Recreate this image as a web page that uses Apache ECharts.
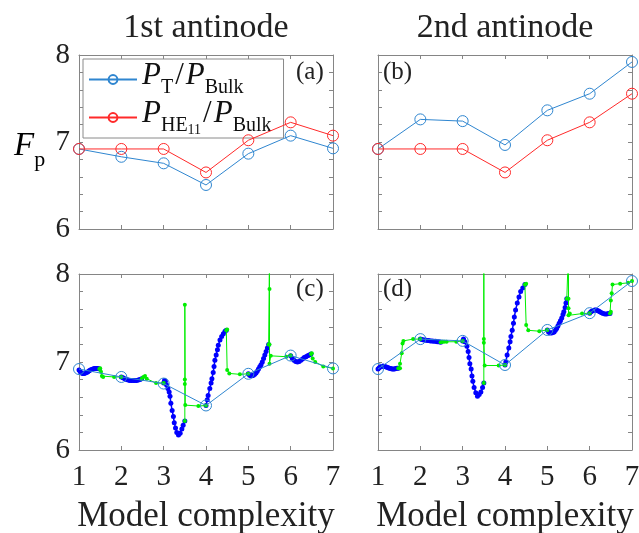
<!DOCTYPE html>
<html><head><meta charset="utf-8">
<script src="https://cdn.jsdelivr.net/npm/echarts@6/dist/echarts.min.js"></script>
<style>html,body{margin:0;padding:0;background:#fff}#c{width:639px;height:533px}</style>
</head><body><div id="c"></div>
<script>
// ---------- data ----------
const complexity = [1, 2, 3, 4, 5, 6, 7];
const xTickLabels = ['1', '2', '3', '4', '5', '6', '7'];
const yTickLabels = {6: '6', 7: '7', 8: '8'};
const panelTitles = ['1st antinode', '2nd antinode'];
const panelTags = ['(a)', '(b)', '(c)', '(d)'];

// P_T / P_Bulk and P_HE11 / P_Bulk
const ptFirst  = [6.92, 6.83, 6.755, 6.506, 6.866, 7.073, 6.927];
const heFirst  = [6.92, 6.92, 6.92, 6.65, 7.02, 7.226, 7.073];
const ptSecond = [6.92, 7.26, 7.24, 6.966, 7.364, 7.555, 7.92];
const heSecond = [6.92, 6.92, 6.92, 6.65, 7.02, 7.226, 7.555];

// dense sweep (blue dots), panel (c): one list per segment
const sweepC = [
  [[1.00,6.91],[1.03,6.89],[1.06,6.875],[1.09,6.87],[1.12,6.87],[1.15,6.875],[1.18,6.88],[1.21,6.89],[1.24,6.90],[1.27,6.91],[1.30,6.915],[1.33,6.92],[1.36,6.925],[1.39,6.925],[1.42,6.925],[1.45,6.925],[1.48,6.92]],
  [[2.00,6.83],[2.04,6.82],[2.08,6.81],[2.12,6.80],[2.16,6.795],[2.20,6.79],[2.24,6.79],[2.28,6.79],[2.32,6.79],[2.36,6.79],[2.40,6.795],[2.44,6.80],[2.48,6.81]],
  [[3.00,6.76],[3.02,6.79],[3.04,6.78],[3.07,6.74],[3.10,6.70],[3.13,6.66],[3.15,6.61],[3.17,6.53],[3.20,6.45],[3.23,6.38],[3.25,6.31],[3.28,6.25],[3.31,6.20],[3.35,6.17],[3.39,6.19],[3.43,6.24],[3.46,6.28],[3.50,6.33]],
  [[4.00,6.506],[4.03,6.57],[4.05,6.62],[4.09,6.70],[4.12,6.76],[4.14,6.81],[4.17,6.88],[4.19,6.95],[4.21,7.02],[4.24,7.08],[4.27,7.14],[4.29,7.19],[4.33,7.25],[4.37,7.29],[4.41,7.32],[4.45,7.35],[4.48,7.36]],
  [[5.00,6.866],[5.03,6.85],[5.06,6.845],[5.09,6.845],[5.12,6.85],[5.15,6.86],[5.18,6.875],[5.21,6.895],[5.24,6.92],[5.27,6.945],[5.30,6.97],[5.33,7.00],[5.36,7.04],[5.39,7.08],[5.42,7.12],[5.45,7.16],[5.48,7.20]],
  [[6.00,7.07],[6.04,7.04],[6.08,7.02],[6.12,7.005],[6.16,7.00],[6.20,7.005],[6.24,7.02],[6.28,7.035],[6.32,7.05],[6.36,7.06],[6.40,7.07],[6.44,7.08],[6.48,7.09]]
];
// step path (green dots), panel (c)
const stepC = [
  [[1.48,6.92],[1.50,6.93],[1.52,6.89],[1.54,6.84],[1.57,6.83],[1.83,6.83],[2.00,6.83]],
  [[2.48,6.81],[2.52,6.83],[2.56,6.84],[2.60,6.81],[2.82,6.76],[3.00,6.76]],
  [[3.50,6.33],[3.50,6.75],[3.50,6.80],[3.50,7.65],[3.51,6.51],[3.82,6.50],[4.00,6.506]],
  [[4.48,7.36],[4.50,7.37],[4.50,6.91],[4.55,6.87],[4.80,6.86],[5.00,6.866]],
  [[5.48,7.20],[5.50,7.20],[5.50,8.30],[5.50,7.83],[5.50,6.98],[5.53,7.07],[5.90,7.06],[6.00,7.073]],
  [[6.48,7.09],[6.50,7.10],[6.52,7.04],[6.58,7.00],[6.77,6.95],[7.00,6.927]]
];
// dense sweep (blue dots), panel (d)
const sweepD = [
  [[1.00,6.92],[1.03,6.935],[1.06,6.945],[1.09,6.95],[1.12,6.955],[1.15,6.95],[1.18,6.945],[1.21,6.94],[1.24,6.935],[1.27,6.93],[1.30,6.925],[1.33,6.92],[1.36,6.92],[1.39,6.92],[1.42,6.925],[1.45,6.93],[1.48,6.93]],
  [[2.00,7.26],[2.04,7.255],[2.08,7.25],[2.12,7.25],[2.16,7.245],[2.20,7.245],[2.24,7.24],[2.28,7.24],[2.32,7.235],[2.36,7.235],[2.40,7.23],[2.44,7.23],[2.48,7.225]],
  [[3.00,7.24],[3.02,7.26],[3.05,7.23],[3.10,7.18],[3.13,7.12],[3.15,7.05],[3.17,6.98],[3.20,6.92],[3.22,6.84],[3.24,6.78],[3.27,6.71],[3.31,6.65],[3.35,6.61],[3.39,6.63],[3.43,6.66],[3.47,6.71],[3.50,6.76]],
  [[4.00,6.966],[4.02,7.00],[4.05,7.08],[4.09,7.16],[4.12,7.23],[4.14,7.29],[4.17,7.36],[4.20,7.44],[4.22,7.51],[4.25,7.59],[4.29,7.67],[4.33,7.74],[4.37,7.80],[4.42,7.84],[4.47,7.88]],
  [[5.00,7.364],[5.03,7.34],[5.06,7.33],[5.10,7.33],[5.13,7.335],[5.16,7.34],[5.19,7.36],[5.22,7.38],[5.25,7.41],[5.28,7.44],[5.31,7.47],[5.34,7.50],[5.37,7.54],[5.39,7.57],[5.42,7.62],[5.44,7.67],[5.46,7.72]],
  [[6.00,7.555],[6.03,7.57],[6.06,7.58],[6.09,7.585],[6.12,7.59],[6.15,7.59],[6.18,7.585],[6.21,7.58],[6.24,7.57],[6.28,7.56],[6.32,7.55],[6.36,7.545],[6.40,7.545],[6.44,7.55],[6.48,7.55]]
];
// step path (green dots), panel (d)
const stepD = [
  [[1.48,6.93],[1.52,6.93],[1.52,6.98],[1.56,7.10],[1.58,7.21],[1.60,7.24],[1.83,7.26],[2.00,7.26]],
  [[2.48,7.225],[2.52,7.23],[2.56,7.23],[2.62,7.23],[2.85,7.23],[3.00,7.24]],
  [[3.50,6.76],[3.50,8.30],[3.50,7.26],[3.50,7.22],[3.52,6.96],[3.85,6.96],[4.00,6.966]],
  [[4.47,7.88],[4.50,7.89],[4.50,7.42],[4.55,7.36],[4.81,7.35],[5.00,7.364]],
  [[5.46,7.72],[5.50,7.72],[5.50,8.30],[5.50,7.61],[5.50,7.53],[5.53,7.55],[5.82,7.55],[6.00,7.555]],
  [[6.48,7.55],[6.50,7.57],[6.50,7.70],[6.52,7.78],[6.54,7.88],[6.72,7.89],[6.91,7.90],[7.00,7.92]]
];

// ---------- styling ----------
const C_PT = '#2f86d0', C_HE = '#ff2a2a', C_SWEEP = '#0000ff', C_STEP = '#00ee00';
const FRAME = '#858585';
const SERIF = '"Liberation Serif", "DejaVu Serif", serif';
const grids = [
  {left: 79, top: 55, width: 254, height: 174, outerBoundsMode: 'none', containLabel: false},
  {left: 378, top: 55, width: 254, height: 174, outerBoundsMode: 'none', containLabel: false},
  {left: 79, top: 274, width: 254, height: 176, outerBoundsMode: 'none', containLabel: false},
  {left: 378, top: 274, width: 254, height: 176, outerBoundsMode: 'none', containLabel: false}
];

const xAxes = [], yAxes = [];
grids.forEach((g, i) => {
  const lineCommon = {show: true, lineStyle: {color: FRAME, width: 1}};
  const tickCommon = {show: true, inside: true, length: 4, lineStyle: {color: FRAME, width: 1}};
  xAxes.push({
    type: 'value', gridIndex: i, min: 1, max: 7, interval: 1, position: 'bottom',
    axisLine: lineCommon, axisTick: tickCommon, splitLine: {show: false},
    axisLabel: {show: i >= 2, margin: 13, color: '#222', fontFamily: SERIF, fontSize: 29,
      formatter: v => xTickLabels[Math.round(v) - 1]},
    name: i >= 2 ? 'Model complexity' : '', nameLocation: 'middle', nameGap: 49,
    nameTextStyle: {color: '#222', fontFamily: SERIF, fontSize: 35}
  });
  xAxes.push({
    type: 'value', gridIndex: i, min: 1, max: 7, interval: 1, position: 'top',
    axisLine: lineCommon, axisTick: tickCommon, splitLine: {show: false}, axisLabel: {show: false}
  });
  yAxes.push({
    type: 'value', gridIndex: i, min: 6, max: 8, interval: 0.2, position: 'left',
    axisLine: lineCommon, axisTick: tickCommon, splitLine: {show: false},
    axisLabel: {show: i % 2 === 0, margin: 9, color: '#222', fontFamily: SERIF, fontSize: 29,
      formatter: v => { const r = Math.round(v); return Math.abs(v - r) < 1e-6 ? (yTickLabels[r] || '') : ''; }}
  });
  yAxes.push({
    type: 'value', gridIndex: i, min: 6, max: 8, interval: 0.2, position: 'right',
    axisLine: lineCommon, axisTick: tickCommon, splitLine: {show: false}, axisLabel: {show: false}
  });
});

const series = [];
function pLine(name, vals, color, g) {
  series.push({
    name: name, type: 'line', xAxisIndex: 2 * g, yAxisIndex: 2 * g,
    data: complexity.map((c, k) => [c, vals[k]]),
    symbol: 'circle', symbolSize: 11, z: 5,
    lineStyle: {color: color, width: 1},
    itemStyle: {color: 'rgba(255,255,255,0)', borderColor: color, borderWidth: 1}
  });
}
function segs(list, color, size, width, g, z) {
  list.forEach(seg => series.push({
    type: 'line', xAxisIndex: 2 * g, yAxisIndex: 2 * g, data: seg, clip: true,
    symbol: 'circle', symbolSize: size, z: z,
    lineStyle: {color: color, width: width}, itemStyle: {color: color}
  }));
}
pLine('PT', ptFirst, C_PT, 0);
pLine('PHE', heFirst, C_HE, 0);
pLine('PT', ptSecond, C_PT, 1);
pLine('PHE', heSecond, C_HE, 1);
segs(sweepC, C_SWEEP, 5, 1.5, 2, 2);
segs(stepC, C_STEP, 4, 1, 2, 3);
pLine('PT', ptFirst, C_PT, 2);
segs(sweepD, C_SWEEP, 5, 1.5, 3, 2);
segs(stepD, C_STEP, 4, 1, 3, 3);
pLine('PT', ptSecond, C_PT, 3);

const rich = {
  i: {fontFamily: SERIF, fontStyle: 'italic', fontSize: 31, color: '#111', padding: [0, 0, 8, 0], verticalAlign: 'bottom'},
  n: {fontFamily: SERIF, fontSize: 31, color: '#111', padding: [0, 2, 8, 2], verticalAlign: 'bottom'},
  s: {fontFamily: SERIF, fontSize: 20, color: '#111', verticalAlign: 'bottom', padding: [0, 0, 1, 0]},
  ss: {fontFamily: SERIF, fontSize: 14, color: '#111', verticalAlign: 'bottom', padding: [0, 0, 0, 0]}
};

const graphics = [];
panelTitles.forEach((t, k) => graphics.push({
  type: 'text', x: grids[k].left + grids[k].width / 2, y: 28,
  style: {text: t, font: '34px ' + SERIF, fill: '#222', align: 'center', verticalAlign: 'middle'}
}));
const tagPos = [[296, 60], [383, 60], [296, 277], [383, 277]];
panelTags.forEach((t, k) => graphics.push({
  type: 'text', x: tagPos[k][0], y: tagPos[k][1],
  style: {text: t, font: '25px ' + SERIF, fill: '#222'}
}));
graphics.push({
  type: 'text', x: 14, y: 130,
  style: {text: '{F|F}{p|p}', rich: {
    F: {fontFamily: SERIF, fontStyle: 'italic', fontSize: 33, color: '#222', padding: [0, 0, 8, 0], verticalAlign: 'bottom'},
    p: {fontFamily: SERIF, fontSize: 22, color: '#222', verticalAlign: 'bottom'}
  }}
});

const chart = echarts.init(document.getElementById('c'), null, {renderer: 'canvas'});
chart.setOption({
  animation: false,
  backgroundColor: '#fff',
  grid: grids,
  xAxis: xAxes,
  yAxis: yAxes,
  legend: {
    data: ['PT', 'PHE'], left: 83, top: 59, orient: 'vertical',
    backgroundColor: '#fff', borderColor: '#8a8a8a', borderWidth: 1,
    padding: [1, 12, 1, 5], itemGap: 0, itemWidth: 48, itemHeight: 11,
    selectedMode: false,
    formatter: name => name === 'PT' ? '{i|P}{s|T}{n|/}{i|P}{s|Bulk}' : '{i|P}{s|HE}{ss|11}{n|/}{i|P}{s|Bulk}',
    textStyle: {rich: rich, fontSize: 31}
  },
  graphic: graphics,
  series: series
});
</script></body></html>
